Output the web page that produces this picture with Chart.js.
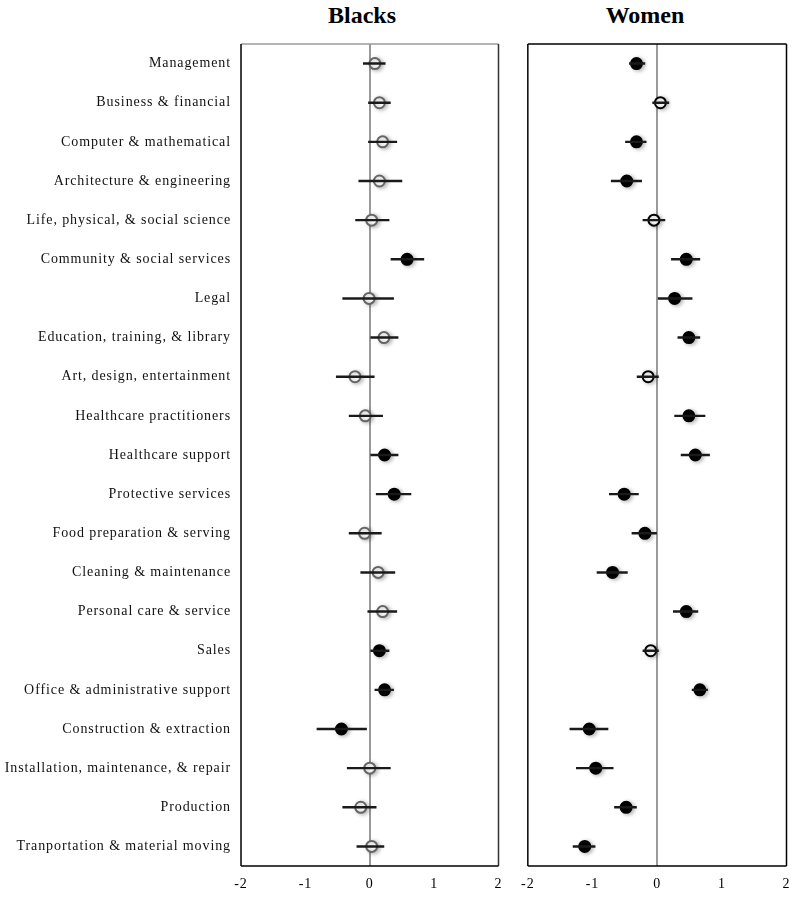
<!DOCTYPE html>
<html>
<head>
<meta charset="utf-8">
<script src="https://cdn.jsdelivr.net/npm/chart.js@4"></script>
<style>
  html, body { margin: 0; padding: 0; background: #fff; }
  body { width: 800px; height: 899px; position: relative; overflow: hidden; }
  canvas { position: absolute; top: 0; }
  #c1 { left: 0; }
  #c2 { left: 512px; }
  .ttl { position: absolute; top: 2px; font-family: "Liberation Serif", "Times New Roman", serif;
         font-weight: bold; font-size: 24px; color: #000; transform: translateX(-50%); white-space: nowrap; }
</style>
</head>
<body>
<div class="ttl" style="left:362px">Blacks</div>
<div class="ttl" style="left:645px">Women</div>
<canvas id="c1" width="512" height="899"></canvas>
<canvas id="c2" width="288" height="899"></canvas>
<script>
const categories = [
  "Management", "Business & financial", "Computer & mathematical",
  "Architecture & engineering", "Life, physical, & social science",
  "Community & social services", "Legal", "Education, training, & library",
  "Art, design, entertainment", "Healthcare practitioners", "Healthcare support",
  "Protective services", "Food preparation & serving", "Cleaning & maintenance",
  "Personal care & service", "Sales", "Office & administrative support",
  "Construction & extraction", "Installation, maintenance, & repair",
  "Production", "Tranportation & material moving"
];
const xTicks = [-2, -1, 0, 1, 2];

// Blacks
const blacksEst = [0.08, 0.15, 0.20, 0.15, 0.03, 0.58, -0.01, 0.22, -0.23, -0.07, 0.23, 0.38, -0.08, 0.13, 0.20, 0.15, 0.23, -0.44, 0.00, -0.14, 0.03];
const blacksLo  = [-0.10, -0.02, -0.02, -0.17, -0.22, 0.33, -0.42, 0.00, -0.52, -0.32, 0.00, 0.10, -0.32, -0.14, -0.03, 0.00, 0.08, -0.82, -0.35, -0.42, -0.20];
const blacksHi  = [0.24, 0.32, 0.42, 0.50, 0.30, 0.84, 0.37, 0.44, 0.07, 0.20, 0.44, 0.64, 0.18, 0.39, 0.42, 0.30, 0.37, -0.05, 0.32, 0.10, 0.22];
const blacksSig = [0,0,0,0,0,1,0,0,0,0,1,1,0,0,0,1,1,1,0,0,0];

// Women
const womenEst = [-0.32, 0.05, -0.32, -0.47, -0.05, 0.45, 0.27, 0.49, -0.14, 0.49, 0.59, -0.51, -0.19, -0.69, 0.45, -0.10, 0.66, -1.05, -0.95, -0.48, -1.12];
const womenLo  = [-0.43, -0.07, -0.49, -0.71, -0.22, 0.22, 0.00, 0.32, -0.31, 0.27, 0.37, -0.74, -0.39, -0.93, 0.25, -0.22, 0.54, -1.35, -1.25, -0.66, -1.30];
const womenHi  = [-0.19, 0.18, -0.17, -0.24, 0.12, 0.66, 0.54, 0.66, 0.02, 0.74, 0.81, -0.29, -0.01, -0.46, 0.63, 0.02, 0.78, -0.76, -0.68, -0.32, -0.96];
const womenSig = [1,0,1,1,0,1,1,1,0,1,1,1,1,1,1,0,1,1,1,1,1];

const SERIF = '"Liberation Serif", "Times New Roman", serif';

const borderPlugin = {
  id: 'panelBorder',
  afterDraw(chart, args, opts) {
    const {ctx, chartArea: a} = chart;
    ctx.save();
    ctx.lineWidth = 1.5;
    const seg = (x1, y1, x2, y2, c) => { ctx.strokeStyle = c; ctx.beginPath(); ctx.moveTo(x1, y1); ctx.lineTo(x2, y2); ctx.stroke(); };
    seg(a.left, a.top, a.right, a.top, opts.top);
    seg(a.right, a.top, a.right, a.bottom, opts.right);
    seg(a.left, a.top, a.left, a.bottom, opts.left);
    seg(a.left, a.bottom, a.right, a.bottom, opts.bottom);
    ctx.restore();
  }
};

const spacingPlugin = {
  id: 'letterSpace',
  beforeDraw(chart) { chart.ctx.letterSpacing = '0.9px'; }
};

const shadowPlugin = {
  id: 'pointShadow',
  beforeDatasetDraw(chart, args) {
    if (args.index === 1) {
      const ctx = chart.ctx;
      ctx.save();
      ctx.shadowColor = 'rgba(0,0,0,0.28)';
      ctx.shadowBlur = 4;
      ctx.shadowOffsetX = 2;
      ctx.shadowOffsetY = 1;
    }
  },
  afterDatasetDraw(chart, args) {
    if (args.index === 1) chart.ctx.restore();
  }
};

function makeChart(id, est, lo, hi, sig, hollowBorder, showY, pad, borders) {
  const ci = lo.map((v, i) => [v, hi[i]]);
  return new Chart(document.getElementById(id), {
    type: 'bar',
    data: {
      labels: categories,
      datasets: [
        {
          type: 'bar',
          indexAxis: 'y',
          data: ci,
          backgroundColor: '#1a1a1a',
          borderWidth: 0,
          barThickness: 1.8,
          borderSkipped: false
        },
        {
          type: 'line',
          indexAxis: 'y',
          data: est,
          showLine: false,
          pointRadius: 5.5,
          pointBorderWidth: 2,
          pointBackgroundColor: sig.map(s => s ? '#000' : '#fff'),
          pointBorderColor: sig.map(s => s ? '#000' : hollowBorder)
        }
      ]
    },
    options: {
      responsive: false,
      animation: false,
      indexAxis: 'y',
      layout: { padding: pad },
      plugins: {
        legend: { display: false },
        tooltip: { enabled: false },
        title: { display: false },
        panelBorder: borders
      },
      scales: {
        x: {
          type: 'linear',
          min: xTicks[0],
          max: xTicks[xTicks.length - 1],
          afterBuildTicks(scale) { scale.ticks = xTicks.map(v => ({ value: v })); },
          afterFit(scale) { scale.height = 33; },
          ticks: {
            font: { family: SERIF, size: 14 },
            color: '#000',
            padding: 10,
            maxRotation: 0
          },
          grid: {
            drawTicks: false,
            color: c => (c.tick && c.tick.value === 0) ? '#9a9a9a' : 'rgba(0,0,0,0)',
            lineWidth: 2
          },
          border: { display: false }
        },
        y: {
          type: 'category',
          display: showY,
          offset: true,
          afterFit(scale) { if (showY) scale.width = 241; },
          ticks: {
            font: { family: SERIF, size: 14 },
            color: '#111',
            padding: 10,
            autoSkip: false
          },
          grid: { display: false, drawTicks: false },
          border: { display: false }
        }
      }
    },
    plugins: [spacingPlugin, shadowPlugin, borderPlugin]
  });
}

makeChart('c1', blacksEst, blacksLo, blacksHi, blacksSig, '#666',
  true, { top: 44, right: 12, bottom: 0, left: 0 },
  { top: '#9a9a9a', right: '#333', left: '#000', bottom: '#000' });
makeChart('c2', womenEst, womenLo, womenHi, womenSig, '#000',
  false, { top: 44, right: 11, bottom: 0, left: 15 },
  { top: '#000', right: '#000', left: '#000', bottom: '#000' });
</script>
</body>
</html>
